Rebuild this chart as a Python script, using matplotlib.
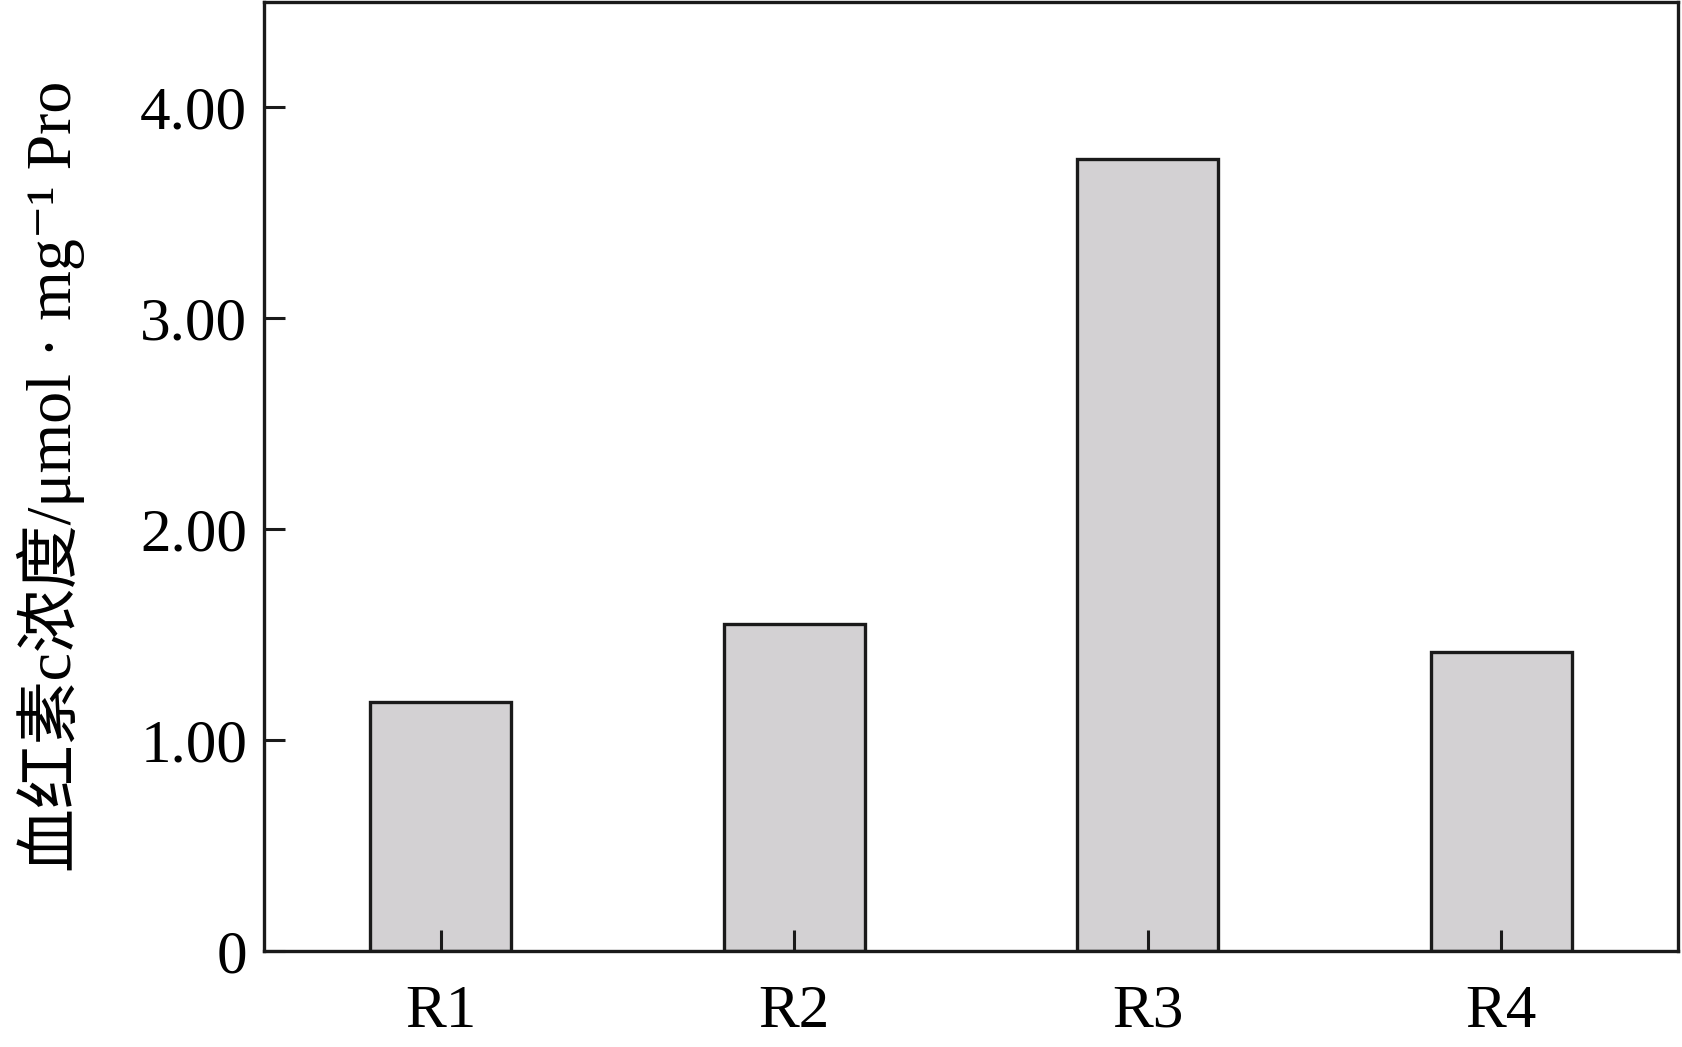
import matplotlib
matplotlib.use("Agg")
import matplotlib.pyplot as plt

categories = ["R1", "R2", "R3", "R4"]
values = [1.18, 1.55, 3.755, 1.42]
yticks = [0, 1, 2, 3, 4]
ytick_labels = ["0", "1.00", "2.00", "3.00", "4.00"]
ylabel = "血红素c浓度/μmol · mg⁻¹ Pro"

serif = ["Liberation Serif", "Noto Sans CJK SC", "DejaVu Serif"]
plt.rcParams["font.family"] = serif

fig = plt.figure(figsize=(16.82, 10.47), dpi=100)
ax = fig.add_axes([264 / 1682, 1 - 951 / 1047, (1678 - 264) / 1682, (951 - 2) / 1047])

x = range(len(categories))
ax.bar(x, values, width=0.4, color="#d3d1d3", edgecolor="#1a1a1a", linewidth=2.4, zorder=2)

ax.set_xlim(-0.5, 3.5)
ax.set_ylim(0, 4.5)
ax.set_xticks(list(x))
ax.set_xticklabels(categories, fontsize=44)
ax.set_yticks(yticks)
ax.set_yticklabels(ytick_labels, fontsize=44)
ax.tick_params(axis="both", direction="in", length=15, width=2.2, color="#1a1a1a")
ax.tick_params(axis="y", pad=12)
ax.tick_params(axis="x", pad=24)
ax.set_axisbelow(False)
for s in ax.spines.values():
    s.set_linewidth(2.4)
    s.set_color("#1a1a1a")

ax.set_ylabel(ylabel, fontsize=46, family=serif, labelpad=40)

fig.savefig("out.png", dpi=100)
